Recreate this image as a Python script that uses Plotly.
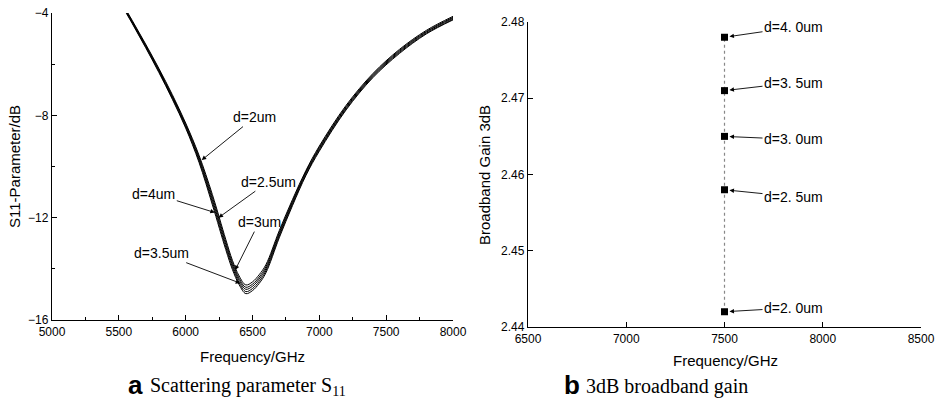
import plotly.graph_objects as go

W, H = 939, 399

# ---------------- data: panel a (S11 curves) ----------------
freq = [5500, 5600, 5700, 5800, 5900, 6000, 6100, 6200, 6300, 6350, 6400, 6450,
        6500, 6550, 6600, 6700, 6800, 6900, 7000, 7200, 7400, 7600, 7800, 8000]
s11_d2_0 = [-3.39, -4.29, -5.21, -6.17, -7.19, -8.30, -9.56, -11.10, -12.85, -13.67, -14.28, -14.63,
            -14.51, -14.23, -13.84, -12.51, -11.28, -10.15, -9.20, -7.61, -6.37, -5.42, -4.68, -4.13]
s11_d2_5 = [-3.42, -4.32, -5.25, -6.21, -7.24, -8.35, -9.63, -11.20, -12.95, -13.76, -14.37, -14.72,
            -14.60, -14.32, -13.92, -12.58, -11.34, -10.20, -9.25, -7.66, -6.41, -5.46, -4.72, -4.17]
s11_d3_0 = [-3.45, -4.35, -5.28, -6.25, -7.28, -8.40, -9.70, -11.30, -13.05, -13.85, -14.45, -14.80,
            -14.68, -14.40, -14.00, -12.65, -11.40, -10.25, -9.30, -7.70, -6.45, -5.50, -4.75, -4.20]
s11_d3_5 = [-3.48, -4.38, -5.32, -6.29, -7.33, -8.45, -9.77, -11.40, -13.15, -13.94, -14.54, -14.89,
            -14.77, -14.49, -14.08, -12.72, -11.46, -10.30, -9.35, -7.75, -6.49, -5.54, -4.79, -4.24]
s11_d4_0 = [-3.51, -4.41, -5.35, -6.33, -7.37, -8.50, -9.84, -11.50, -13.25, -14.03, -14.62, -14.97,
            -14.85, -14.57, -14.16, -12.79, -11.52, -10.35, -9.40, -7.79, -6.53, -5.58, -4.82, -4.27]
s11_series = [s11_d2_0, s11_d2_5, s11_d3_0, s11_d3_5, s11_d4_0]

# annotation labels (text, tip freq, tip dB)
a_labels = ["d=2um", "d=4um", "d=2.5um", "d=3um", "d=3.5um"]
a_tip_x = [6120, 6218, 6246, 6370, 6408]
a_tip_y = [-9.75, -11.8, -12.0, -14.05, -14.56]

# ---------------- data: panel b (gain) ----------------
gain_freq = [7500, 7500, 7500, 7500, 7500]
gain_vals = [2.442, 2.458, 2.465, 2.471, 2.478]
b_labels = ["d=2. 0um", "d=2. 5um", "d=3. 0um", "d=3. 5um", "d=4. 0um"]

# ticks
a_xticks = [5000, 5500, 6000, 6500, 7000, 7500, 8000]
a_yticks = [-16, -12, -8, -4]
b_xticks = [6500, 7000, 7500, 8000, 8500]
b_yticks = [2.44, 2.45, 2.46, 2.47, 2.48]

# ---------------- layout geometry (pixels) ----------------
A = dict(l=52, r=453, t=13, b=320)
B = dict(l=528, r=921, t=22, b=327)


def dom_x(p):
    return [p["l"] / W, p["r"] / W]


def dom_y(p):
    return [1 - p["b"] / H, 1 - p["t"] / H]


SANS = "Liberation Sans, Arial, sans-serif"
NARROW = "Liberation Sans Narrow, Arial Narrow, Liberation Sans, Arial, sans-serif"
SERIF = "Liberation Serif, Times New Roman, serif"

fig = go.Figure()

for ys in s11_series:
    fig.add_trace(go.Scatter(
        x=freq, y=ys, mode="lines", xaxis="x", yaxis="y",
        line=dict(color="black", width=1, shape="spline", smoothing=1.0),
        hoverinfo="skip", showlegend=False))

fig.add_trace(go.Scatter(
    x=gain_freq, y=gain_vals, mode="lines+markers", xaxis="x2", yaxis="y2",
    line=dict(color="#888888", width=1.2, dash="dot"),
    marker=dict(symbol="square", size=7, color="black"),
    showlegend=False))

axis_common = dict(showline=True, linecolor="black", linewidth=1.3, showgrid=False,
                   zeroline=False, ticks="inside", tickcolor="black", tickwidth=1.3,
                   ticklen=5, tickfont=dict(family=NARROW, size=12, color="black"),
                   mirror=False, automargin=False)

fig.update_layout(
    width=W, height=H, margin=dict(l=0, r=0, t=0, b=0, pad=0, autoexpand=False),
    paper_bgcolor="white", plot_bgcolor="white", showlegend=False,
    xaxis=dict(domain=dom_x(A), range=[5000, 8000], anchor="y", tickvals=a_xticks,
               minor=dict(ticks="inside", ticklen=3, tickwidth=1, tickcolor="black", dtick=250, tick0=5000),
               **axis_common),
    yaxis=dict(domain=dom_y(A), range=[-16, -4], anchor="x", tickvals=a_yticks,
               minor=dict(ticks="inside", ticklen=3, tickwidth=1, tickcolor="black", dtick=2, tick0=-16),
               **axis_common),
    xaxis2=dict(domain=dom_x(B), range=[6500, 8500], anchor="y2", tickvals=b_xticks, **axis_common),
    yaxis2=dict(domain=dom_y(B), range=[2.44, 2.48], anchor="x2", tickvals=b_yticks,
                tickformat=".2f", **axis_common),
)

ann = []
# panel a curve labels (text center offsets in pixels)
a_ax = [53, -61, 50, 24, -79]
a_ay = [-43, -19, -36, -48, -30]
for t, x, y, ax, ay in zip(a_labels, a_tip_x, a_tip_y, a_ax, a_ay):
    ann.append(dict(x=x, y=y, xref="x", yref="y", text=t, showarrow=True,
                    ax=ax, ay=ay, arrowhead=2, arrowsize=1, arrowwidth=0.9,
                    arrowcolor="black", standoff=0,
                    font=dict(family=SANS, size=14, color="black")))

# panel b labels
b_ay = [-4, 7, 3, -8, -10]
for t, y, ay in zip(b_labels, gain_vals, b_ay):
    ann.append(dict(x=7500, y=y, xref="x2", yref="y2", text=t, showarrow=True,
                    ax=69, ay=ay, arrowhead=2, arrowsize=1, arrowwidth=0.9,
                    arrowcolor="black", standoff=5,
                    font=dict(family=SANS, size=14, color="black")))


def ptxt(text, x, y, size, family, angle=0, xanchor="center"):
    return dict(x=x / W, y=1 - y / H, xref="paper", yref="paper", text=text,
                showarrow=False, textangle=angle, xanchor=xanchor, yanchor="middle",
                font=dict(family=family, size=size, color="black"))


# axis titles
ann.append(ptxt("Frequency/GHz", 253, 356, 15, SANS))
ann.append(ptxt("Frequency/GHz", 725, 360, 15, SANS))
ann.append(ptxt("S11-Parameter/dB", 14, 167, 15, SANS, angle=-90))
ann.append(ptxt("Broadband Gain 3dB", 484, 175, 15, SANS, angle=-90))

# captions
ann.append(ptxt("<b>a</b>", 135, 385, 26, SANS))
ann.append(ptxt("Scattering parameter S<sub>11</sub>", 148, 386, 20, SERIF, xanchor="left"))
ann.append(ptxt("<b>b</b>", 572, 385, 26, SANS))
ann.append(ptxt("3dB broadband gain", 584, 386, 20, SERIF, xanchor="left"))

fig.update_layout(annotations=ann)

fig.write_html("out.html", config={"displayModeBar": False},
               post_script="document.body.style.margin='0';document.body.style.overflow='hidden';")
